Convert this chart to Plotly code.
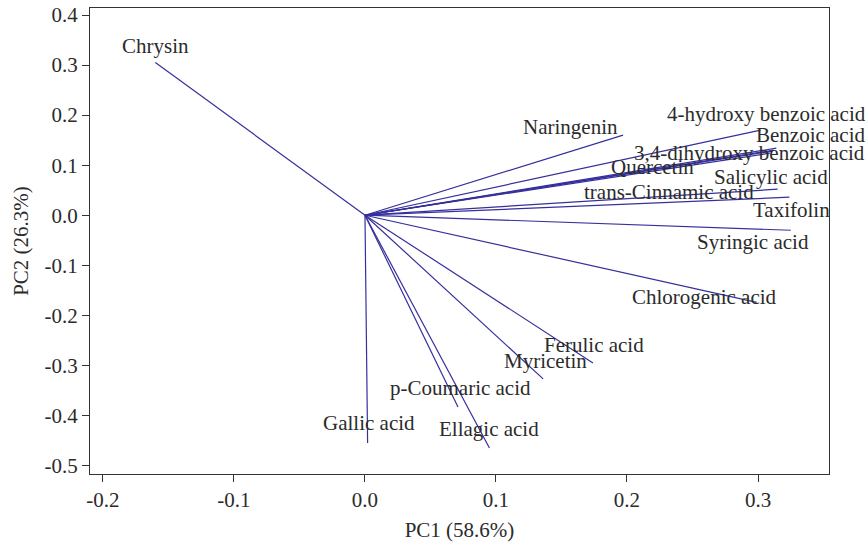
import plotly.graph_objects as go

# PCA loadings of the phenolic compounds
compounds = [
    "Chrysin", "Naringenin", "4-hydroxy benzoic acid", "Benzoic acid",
    "3,4-dihydroxy benzoic acid", "Quercetin", "Salicylic acid",
    "trans-Cinnamic acid", "Taxifolin", "Syringic acid", "Chlorogenic acid",
    "Ferulic acid", "Myricetin", "p-Coumaric acid", "Gallic acid", "Ellagic acid",
]
pc1 = [-0.160, 0.197, 0.302, 0.314, 0.312, 0.311, 0.309, 0.315, 0.324, 0.325,
       0.299, 0.174, 0.136, 0.071, 0.002, 0.095]
pc2 = [0.305, 0.160, 0.170, 0.134, 0.130, 0.128, 0.124, 0.052, 0.036, -0.030,
       -0.174, -0.295, -0.327, -0.383, -0.455, -0.465]

pc1_label = "PC1 (58.6%)"
pc2_label = "PC2 (26.3%)"
x_ticks = [-0.2, -0.1, 0.0, 0.1, 0.2, 0.3]
y_ticks = [0.4, 0.3, 0.2, 0.1, 0.0, -0.1, -0.2, -0.3, -0.4, -0.5]

# pixel offsets of each name relative to its arrow tip
label_shift = {
    "Chrysin": (0, 17), "Naringenin": (-53, 8), "4-hydroxy benzoic acid": (6, 16),
    "Benzoic acid": (35, 13), "3,4-dihydroxy benzoic acid": (-24, -3),
    "Quercetin": (-120, -16), "Salicylic acid": (1, -24),
    "trans-Cinnamic acid": (-109, -3), "Taxifolin": (2, -13),
    "Syringic acid": (-38, -12), "Chlorogenic acid": (-52, 5),
    "Ferulic acid": (1, 18), "Myricetin": (2, 18), "p-Coumaric acid": (3, 19),
    "Gallic acid": (1, 20), "Ellagic acid": (0, 19),
}

FONT = "Liberation Serif, Times New Roman, serif"
TEXT_COLOR = "#2b2b2b"
LINE_COLOR = "#35309c"
AXIS_COLOR = "#333333"

fig = go.Figure()

# one segment per compound, from the origin to its loading
for name, x, y in zip(compounds, pc1, pc2):
    fig.add_trace(go.Scatter(
        x=[0, x], y=[0, y], mode="lines",
        line=dict(color=LINE_COLOR, width=1.2),
        hoverinfo="skip", showlegend=False,
    ))

for name, x, y in zip(compounds, pc1, pc2):
    dx, dy = label_shift[name]
    fig.add_annotation(
        x=x, y=y, text=name, showarrow=False,
        xshift=dx, yshift=dy, xanchor="center", yanchor="middle",
        font=dict(family=FONT, size=21, color=TEXT_COLOR),
    )

axis_common = dict(
    showgrid=False, zeroline=False, automargin=False,
    showline=True, linecolor=AXIS_COLOR, linewidth=1.3, mirror=True,
    ticks="outside", ticklen=7, tickwidth=1, tickcolor=AXIS_COLOR,
    tickfont=dict(family=FONT, size=21, color=TEXT_COLOR),
)

fig.update_xaxes(
    range=[-0.2099, 0.3542], tickvals=x_ticks,
    ticktext=[f"{v:.1f}" for v in x_ticks],
    title=dict(text=pc1_label, font=dict(family=FONT, size=21, color=TEXT_COLOR), standoff=10),
    **axis_common,
)
fig.update_yaxes(
    range=[-0.517, 0.414], tickvals=y_ticks,
    ticktext=[f"{v:.1f}" for v in y_ticks],
    title=dict(text=pc2_label, font=dict(family=FONT, size=21, color=TEXT_COLOR), standoff=10),
    **axis_common,
)

fig.update_layout(
    width=868, height=546,
    margin=dict(l=90, r=39, t=8, b=72),
    plot_bgcolor="white", paper_bgcolor="white",
    showlegend=False,
)

fig.write_html("out.html")
